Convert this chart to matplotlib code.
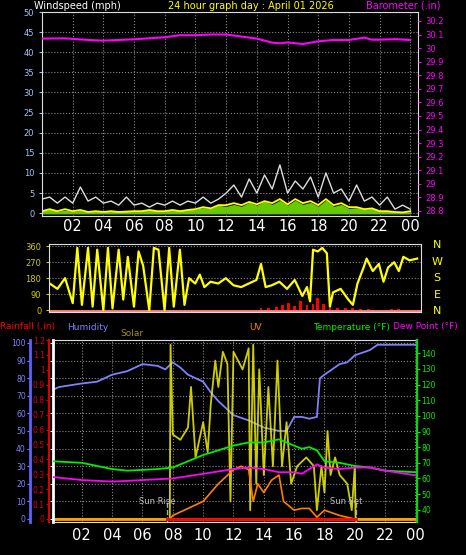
import matplotlib
matplotlib.use("Agg")
import matplotlib.pyplot as plt
import numpy as np

W, H = 466, 555
def rect(x0, y0, x1, y1):
    return [x0 / W, 1 - y1 / H, (x1 - x0) / W, (y1 - y0) / H]

hour_labels = ["02", "04", "06", "08", "10", "12", "14", "16", "18", "20", "22", "00"]
hour_ticks = [2, 4, 6, 8, 10, 12, 14, 16, 18, 20, 22, 24]

# --- top panel data ---
gust_t = np.arange(0, 24.5, 0.5)
gust_v = [3.5, 4, 2.5, 4, 2.5, 6.5, 3, 4, 2.5, 3, 2, 4, 2, 2.5, 1.5, 2.5, 2, 3, 2, 3,
          2.5, 4, 2.5, 3.5, 5, 7, 4, 8.5, 5, 9.5, 6, 12, 5, 8, 6, 9, 4, 10, 5, 6, 3,
          7, 3, 4, 2, 4, 1, 2, 1]
speed_v = [0.5, 1, 0.5, 1, 0.5, 0.8, 0.3, 0.5, 0.3, 0.5, 0.3, 0.4, 0.5, 0.5, 0.8, 0.5, 0.5, 0.8, 0.5, 0.8,
           1, 1.5, 1.2, 2, 2, 2.5, 2, 2.8, 2.2, 3, 2.5, 3.5, 2.2, 3.5, 2.5, 3, 2, 3.5, 2, 2.5, 1.5,
           1.5, 1, 1.2, 0.5, 0.5, 0.3, 0.2, 0.5]
green_v = [0.5, 0.8, 0.3, 0.6, 0.3, 0.5, 0.2, 0.3, 0.2, 0.4, 0.2, 0.3, 0.3, 0.4, 0.6, 0.4, 0.4, 0.6, 0.4, 0.7,
           0.8, 1.2, 1, 1.8, 1.5, 2, 1.5, 2.5, 1.8, 2.8, 2, 3, 1.8, 3, 2, 2.5, 1.5, 3, 1.5, 2, 1,
           1.2, 0.8, 1, 0.3, 0.3, 0.2, 0.1, 0.2]
baro_t = [0, 1.5, 3, 4, 6, 8, 9, 10, 11, 12, 13, 14, 15, 15.5, 16, 17, 18, 19, 20, 21, 21.5, 22, 23, 24]
baro_v = [30.07, 30.072, 30.06, 30.055, 30.065, 30.08, 30.095, 30.095, 30.1, 30.1, 30.085, 30.07,
          30.04, 30.035, 30.042, 30.03, 30.05, 30.06, 30.06, 30.077, 30.062, 30.062, 30.066, 30.06]

# --- middle panel data ---
dir_t = [0, 0.5, 1, 1.5, 2, 2.3, 2.6, 3, 3.3, 3.6, 4, 4.3, 4.6, 5, 5.3, 5.6, 6, 6.3, 6.6, 7, 7.3, 7.6,
         8, 8.3, 8.6, 9, 9.3, 9.6, 10, 10.3, 10.6, 11, 11.5, 12, 12.5, 13, 13.5, 14, 14.3, 14.6, 15,
         15.5, 16, 16.5, 17, 17.3, 17.5, 17.7, 18, 18.3, 18.6, 18.8, 19, 19.5, 20, 20.3, 20.6, 21,
         21.2, 21.6, 22, 22.3, 22.6, 23, 23.3, 23.6, 24, 24.5]
dir_v = [60, 150, 120, 180, 40, 350, 30, 350, 20, 340, 0, 350, 10, 340, 60, 300, 20, 330, 250, 0, 350,
         340, 0, 350, 20, 340, 30, 180, 150, 200, 130, 160, 150, 180, 140, 130, 150, 170, 260, 130, 140,
         160, 120, 170, 80, 130, 50, 340, 330, 350, 320, 20, 100, 120, 60, 30, 150, 240, 290, 220, 260,
         160, 240, 270, 220, 300, 280, 290]
redbar_t = [14.3, 14.8, 15.3, 15.7, 16.1, 16.5, 16.9, 17.3, 17.7, 18.0, 18.4, 18.8, 19.3, 19.8, 20.3, 20.8, 21.3, 22.8, 23.3]
redbar_v = [10, 15, 20, 30, 40, 25, 50, 30, 35, 70, 35, 15, 10, 10, 12, 8, 8, 6, 8]

# --- bottom panel data ---
hum_t = [0, 0.5, 2, 3, 4, 5, 6, 7, 7.5, 8, 8.5, 9, 10, 10.5, 11, 12, 13, 14, 15, 15.5, 16, 16.5, 17,
         17.5, 17.7, 18, 19, 19.5, 20, 21, 21.5, 24]
hum_v = [73, 75, 77, 78, 82, 84, 88, 87, 85, 89, 86, 82, 78, 72, 67, 59, 56, 52, 50, 50, 58, 58, 57,
         58, 80, 82, 88, 89, 93, 96, 99, 99]
temp_t = [0, 2, 4, 5, 7, 8, 9, 10, 11, 12, 13, 14, 15, 16, 16.5, 17, 17.5, 18, 19, 20, 21, 22, 24]
temp_v = [71, 70, 66, 65, 66, 67, 71, 75, 78, 81, 83, 83, 85, 81, 79, 80, 78, 71, 70, 68, 67, 65, 64]
dew_t = [0, 2, 4, 6, 8, 10, 12, 13, 14, 15, 16, 16.5, 17, 17.5, 18, 19, 20, 21, 22, 24]
dew_v = [61, 59, 58, 59, 60, 63, 66, 67, 66, 64, 64, 63, 66, 69, 67, 66, 67, 67, 65, 62]
solar_t = [0, 7.8, 7.85, 8, 8.5, 9, 9.2, 9.5, 10, 10.3, 10.5, 10.8, 11, 11.3, 11.6, 11.8, 12, 12.3,
           12.6, 13, 13.1, 13.3, 13.5, 13.7, 14, 14.3, 14.6, 14.9, 15.2, 15.5, 15.8, 16.2, 16.8, 17.3,
           17.5, 17.8, 18, 18.2, 18.4, 18.7, 19, 19.5, 19.8, 20, 20.05, 24]
solar_v = [0, 0, 99, 48, 45, 52, 75, 35, 55, 38, 65, 90, 75, 95, 88, 10, 95, 90, 85, 97, 5, 99, 20,
           85, 25, 75, 30, 90, 30, 55, 20, 30, 35, 30, 5, 30, 15, 50, 25, 35, 25, 20, 5, 30, 0, 0]
uv_t = [0, 7.8, 8, 9, 10, 11, 12, 12.5, 13, 13.3, 13.6, 14, 14.5, 15, 15.3, 16, 16.5, 17, 17.5, 18, 19, 20, 24]
uv_v = [0, 0, 2, 6, 10, 20, 28, 30, 28, 10, 20, 15, 22, 25, 10, 5, 6, 6, 1, 5, 2, 0, 0]
sunrise, sunset = 7.6, 20.05

BG = "black"
GRID = dict(color="#888888", linestyle=":", linewidth=0.8)
fig = plt.figure(figsize=(W / 100, H / 100), dpi=100, facecolor=BG)

def style(ax):
    ax.set_facecolor(BG)
    for s in ax.spines.values():
        s.set_color("#dddddd")
    ax.tick_params(colors="white", labelsize=6, length=2)

# ---------- top ----------
ax = fig.add_axes(rect(42, 12, 418, 216))
style(ax)
ax.set_xlim(0, 24.5)
ax.set_ylim(-0.7, 50)
ax.set_yticks(range(0, 51, 5))
ax.tick_params(axis="y", colors="#9fc5ff", labelsize=6)
ax.set_xticks(hour_ticks)
ax.set_xticklabels(hour_labels, fontsize=10.5, color="white")
ax.tick_params(axis="x", length=0, pad=2)
ax.grid(True, **GRID)
ax.fill_between(gust_t, 0, green_v, color="#66cc00")
ax.plot(gust_t, gust_v, color="#dddddd", lw=1.0)
ax.plot(gust_t, speed_v, color="yellow", lw=1.3)
axb = ax.twinx()
axb.set_ylim(28.763, 30.266)
bt = np.round(np.arange(28.8, 30.21, 0.1), 1)
axb.set_yticks(bt)
axb.set_yticklabels([f"{v:g}" for v in bt])
axb.tick_params(axis="y", colors="#ff00ff", labelsize=6, length=2)
for s in axb.spines.values():
    s.set_visible(False)
axb.plot(baro_t, baro_v, color="#ff00ff", lw=1.5)
fig.text(34 / W, 1 - 6 / H, "Windspeed (mph)", color="white", fontsize=7, va="center")
fig.text(251 / W, 1 - 6 / H, "24 hour graph day : April 01 2026", color="yellow", fontsize=7, va="center", ha="center")
fig.text(440 / W, 1 - 6 / H, "Barometer (.in)", color="#ff00ff", fontsize=7, va="center", ha="right")

# ---------- middle ----------
axm = fig.add_axes(rect(49, 244, 421, 312))
style(axm)
axm.set_xlim(0.45, 24.75)
axm.set_ylim(-10, 372)
axm.set_yticks([0, 90, 180, 270, 360])
axm.tick_params(axis="y", colors="#cccc00", labelsize=6)
axm.set_xticks([])
axm.yaxis.grid(True, **GRID)
axm.bar(redbar_t, redbar_v, width=0.18, color="red")
axm.axhline(-5, color="#ff8080", lw=2)
axm.plot(dir_t, dir_v, color="yellow", lw=1.6)
for lab, yy in zip(["N", "W", "S", "E", "N"], [245, 262, 278, 295, 311]):
    fig.text(437 / W, 1 - yy / H, lab, color="yellow", fontsize=8, ha="center", va="center")

# ---------- bottom ----------
axl = fig.add_axes(rect(53, 340, 417, 522))
style(axl)
axl.set_xlim(0.1, 24.1)
hum_lim = (-100 * 3 / 176, 100 + 100 * 3 / 176)
axl.set_ylim(*hum_lim)
axl.set_xticks(hour_ticks)
axl.set_xticklabels(hour_labels, fontsize=10.5, color="white")
axl.tick_params(axis="x", length=0, pad=4)
axl.set_yticks(range(0, 101, 10))
axl.tick_params(axis="y", left=False, labelleft=False)
axl.grid(True, **GRID)
axl.spines["left"].set_color("white")
axl.spines["left"].set_linewidth(2)
axl.plot(hum_t, hum_v, color="#8080ff", lw=1.3)
axl.plot(solar_t, solar_v, color="#f0f000", lw=1.3, alpha=0.85)
axl.plot(uv_t, uv_v, color="#ff8000", lw=1.2)
axl.axhline(0, color="#ffa000", lw=2)
for t in (sunrise, sunset):
    axl.axvline(t, ymax=0.12, color="#aaaaaa", lw=1, ls="--")
axl.text(sunrise - 0.6, 10, "Sun Rise", color="#bbbbbb", fontsize=6, ha="center", va="center")
axl.text(sunset - 0.6, 10, "Sun Set", color="#bbbbbb", fontsize=6, ha="center", va="center")

axh = axl.twinx()
axh.set_ylim(*hum_lim)
axh.yaxis.set_ticks_position("left")
axh.spines["left"].set_position(("axes", -23 / 364))
axh.spines["left"].set_color("#6060ff")
axh.spines["left"].set_linewidth(2)
for s in ("right", "top", "bottom"):
    axh.spines[s].set_visible(False)
axh.set_yticks(range(0, 101, 10))
axh.tick_params(axis="y", colors="#8080ff", labelsize=5.5, length=2, pad=1)

axr = axl.twinx()
rain_px = (519 - 355) / 11
axr.set_ylim(-3 / rain_px * 0.1, 1.1 + 15 / rain_px * 0.1)
axr.yaxis.set_ticks_position("left")
axr.spines["left"].set_position(("axes", -4 / 364))
axr.spines["left"].set_color("#dd0000")
axr.spines["left"].set_linewidth(1.5)
for s in ("right", "top", "bottom"):
    axr.spines[s].set_visible(False)
rt = np.round(np.arange(0, 1.21, 0.1), 1)
axr.set_yticks(rt)
axr.set_yticklabels([f"{v:g}" for v in rt])
axr.tick_params(axis="y", colors="#dd0000", labelsize=5.5, length=2, pad=1)
axr.axhline(0, xmin=(sunrise - 0.1) / 24, xmax=(sunset - 0.1) / 24, color="red", lw=2)

axt = axl.twinx()
axt.set_ylim(40 - 12 / 1.54, 140 + 13 / 1.54)
axt.spines["right"].set_color("#00dd00")
axt.spines["right"].set_linewidth(1.5)
for s in ("left", "top", "bottom"):
    axt.spines[s].set_visible(False)
axt.set_yticks(range(40, 141, 10))
axt.tick_params(axis="y", colors="#00ee00", labelsize=5.5, length=2, pad=1)
axt.plot(temp_t, temp_v, color="#00ee00", lw=1.3)
axt.plot(dew_t, dew_v, color="#ff00ff", lw=1.3)

ty = 1 - 327 / H
fs = 6.5
fig.text(0, ty, "Rainfall (.in)", color="red", fontsize=fs, va="center")
fig.text(67 / W, ty, "Humidity", color="#8080ff", fontsize=fs, va="center")
fig.text(120 / W, 1 - 333 / H, "Solar", color="#999900", fontsize=fs, va="center")
fig.text(256 / W, ty, "UV", color="#ff8000", fontsize=fs, va="center", ha="center")
fig.text(313 / W, ty, "Temperature (°F)", color="#00ee00", fontsize=fs, va="center")
fig.text(393 / W, ty, "Dew Point (°F)", color="#ff00ff", fontsize=fs, va="center")

fig.savefig("out.png", dpi=100, facecolor=BG)
